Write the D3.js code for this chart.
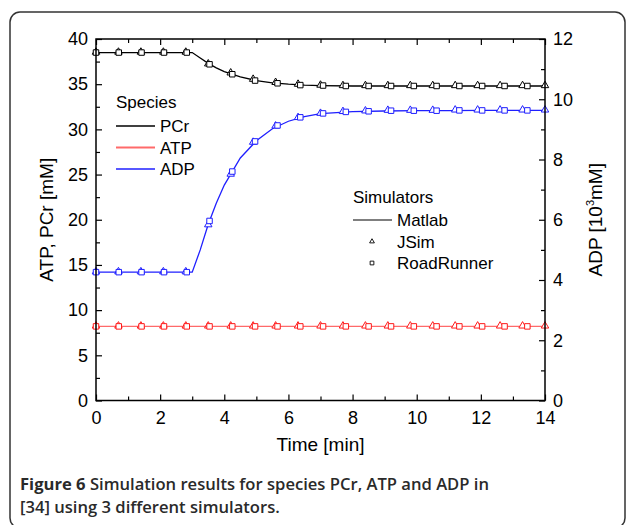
<!DOCTYPE html>
<html lang="en">
<head>
    <meta charset="UTF-8">
    <title>Figure 6</title>
    <style>
        body { margin: 0; background: #fff; }
        svg { display: block; }
    </style>
</head>
<body>
<script src="https://cdn.jsdelivr.net/npm/d3@7"></script>
<script>
    const width = 629;
    const height = 525;
    const margin = ({top: 39, right: 84, bottom: 125, left: 96});

    // time points of each simulator [min]
    const matlabTime = [0, 3, 3.25, 3.5, 3.75, 4, 4.5, 5, 5.5, 6, 6.5, 7, 8, 9, 10, 11, 12, 13, 14];
    const jsimTime = [0, 0.7, 1.4, 2.1, 2.8, 3.5, 4.2, 4.9, 5.6, 6.3, 7, 7.7, 8.4, 9.1, 9.8, 10.5, 11.2, 11.9, 12.6, 13.3, 14];
    const rrTime = [0, 0.71, 1.42, 2.12, 2.83, 3.54, 4.25, 4.96, 5.66, 6.37, 7.08, 7.79, 8.5, 9.2, 9.91, 10.62, 11.33, 12.04, 12.74, 13.45];

    // PCr, ATP [mM] (left axis), ADP [10^3 mM] (right axis)
    const matlabPCr = [38.5, 38.5, 37.9, 37.3, 36.8, 36.4, 35.8, 35.4, 35.15, 35.0, 34.9, 34.85, 34.8, 34.8, 34.8, 34.8, 34.8, 34.8, 34.8];
    const matlabATP = [8.2, 8.2, 8.2, 8.2, 8.2, 8.2, 8.2, 8.2, 8.2, 8.2, 8.2, 8.2, 8.2, 8.2, 8.2, 8.2, 8.2, 8.2, 8.2];
    const matlabADP = [4.26, 4.26, 5.0, 5.85, 6.55, 7.15, 8.05, 8.62, 9.02, 9.27, 9.42, 9.52, 9.59, 9.61, 9.62, 9.62, 9.63, 9.63, 9.63];

    const jsimPCr = [38.5, 38.5, 38.5, 38.5, 38.5, 37.2, 36.2, 35.5, 35.15, 34.95, 34.85, 34.8, 34.8, 34.8, 34.8, 34.8, 34.8, 34.8, 34.8, 34.8, 34.8];
    const jsimATP = [8.2, 8.2, 8.2, 8.2, 8.2, 8.2, 8.2, 8.2, 8.2, 8.2, 8.2, 8.2, 8.2, 8.2, 8.2, 8.2, 8.2, 8.2, 8.2, 8.2, 8.2];
    const jsimADP = [4.26, 4.26, 4.26, 4.26, 4.26, 5.82, 7.5, 8.56, 9.1, 9.38, 9.52, 9.58, 9.6, 9.62, 9.62, 9.62, 9.63, 9.63, 9.63, 9.63, 9.63];

    const rrPCr = [38.5, 38.5, 38.5, 38.5, 38.5, 37.2, 36.1, 35.4, 35.1, 34.9, 34.85, 34.8, 34.8, 34.8, 34.8, 34.8, 34.8, 34.8, 34.8, 34.8];
    const rrATP = [8.2, 8.2, 8.2, 8.2, 8.2, 8.2, 8.2, 8.2, 8.2, 8.2, 8.2, 8.2, 8.2, 8.2, 8.2, 8.2, 8.2, 8.2, 8.2, 8.2];
    const rrADP = [4.26, 4.26, 4.26, 4.26, 4.26, 5.96, 7.6, 8.6, 9.13, 9.4, 9.53, 9.58, 9.6, 9.62, 9.62, 9.62, 9.63, 9.63, 9.63, 9.63];

    const xTicks = [0, 2, 4, 6, 8, 10, 12, 14];
    const yLeftTicks = [0, 5, 10, 15, 20, 25, 30, 35, 40];
    const yRightTicks = [0, 2, 4, 6, 8, 10, 12];
    const speciesNames = ["PCr", "ATP", "ADP"];
    const simulatorNames = ["Matlab", "JSim", "RoadRunner"];

    const lineColor = {PCr: "#000000", ATP: "#ff6a6a", ADP: "#1f1fff"};
    const markColor = {PCr: "#000000", ATP: "#ff1a1a", ADP: "#1f1fff"};
    const font = "Liberation Sans, Arial, Helvetica, sans-serif";

    const svg = d3.select("body")
        .append("svg")
        .attr("width", width)
        .attr("height", height)
        .attr("font-family", font);

    // frame round the figure
    svg.append("rect")
        .attr("x", 10).attr("y", 12)
        .attr("width", 615).attr("height", 516)
        .attr("rx", 10)
        .attr("fill", "none")
        .attr("stroke", "#333")
        .attr("stroke-width", 1.5);

    const x = d3.scaleLinear().domain([0, 14]).range([margin.left, width - margin.right]);
    const yL = d3.scaleLinear().domain([0, 40]).range([height - margin.bottom + 0.5, margin.top]);
    const yR = d3.scaleLinear().domain([0, 12]).range([height - margin.bottom + 0.5, margin.top]);
    const yFor = s => s === "ADP" ? yR : yL;

    const matlab = {PCr: matlabPCr, ATP: matlabATP, ADP: matlabADP};
    const jsim = {PCr: jsimPCr, ATP: jsimATP, ADP: jsimADP};
    const rr = {PCr: rrPCr, ATP: rrATP, ADP: rrADP};

    // Matlab lines
    speciesNames.forEach(s => {
        const line = d3.line()
            .x((d, i) => x(matlabTime[i]))
            .y(d => yFor(s)(d));
        svg.append("path")
            .datum(matlab[s])
            .attr("fill", "none")
            .attr("stroke", lineColor[s])
            .attr("stroke-width", 1.3)
            .attr("d", line);
    });

    const tri = d3.symbol().type(d3.symbolTriangle).size(24);
    const sq = d3.symbol().type(d3.symbolSquare).size(30);

    speciesNames.forEach(s => {
        svg.append("g").selectAll("path")
            .data(jsim[s])
            .enter().append("path")
            .attr("transform", (d, i) => `translate(${x(jsimTime[i])},${yFor(s)(d) - 0.5})`)
            .attr("d", tri)
            .attr("fill", "#fff")
            .attr("stroke", markColor[s])
            .attr("stroke-width", 1);
        svg.append("g").selectAll("path")
            .data(rr[s])
            .enter().append("path")
            .attr("transform", (d, i) => `translate(${x(rrTime[i])},${yFor(s)(d)})`)
            .attr("d", sq)
            .attr("fill", "#fff")
            .attr("stroke", markColor[s])
            .attr("stroke-width", 1);
    });

    // axes
    const styleAxis = g => {
        g.select(".domain").remove();
        g.selectAll("line").attr("stroke", "#000").attr("stroke-width", 1.2);
        g.selectAll("text").attr("font-size", 18).attr("font-family", font).attr("fill", "#000");
    };
    const minor = (a, b, step) => d3.range(a, b + 1e-9, step);

    svg.append("g")
        .attr("transform", `translate(0,${yL(0)})`)
        .call(d3.axisBottom(x).tickValues(xTicks).tickSize(-6).tickPadding(11))
        .call(styleAxis);
    svg.append("g")
        .attr("transform", `translate(0,${yL(0)})`)
        .call(d3.axisBottom(x).tickValues(minor(1, 13, 2)).tickSize(-4).tickFormat(""))
        .call(styleAxis);
    svg.append("g")
        .attr("transform", `translate(0,${margin.top})`)
        .call(d3.axisTop(x).tickValues(xTicks).tickSize(-6).tickFormat(""))
        .call(styleAxis);
    svg.append("g")
        .attr("transform", `translate(0,${margin.top})`)
        .call(d3.axisTop(x).tickValues(minor(1, 13, 2)).tickSize(-4).tickFormat(""))
        .call(styleAxis);

    svg.append("g")
        .attr("transform", `translate(${margin.left},0)`)
        .call(d3.axisLeft(yL).tickValues(yLeftTicks).tickSize(-6).tickPadding(8))
        .call(styleAxis);
    svg.append("g")
        .attr("transform", `translate(${margin.left},0)`)
        .call(d3.axisLeft(yL).tickValues(minor(2.5, 37.5, 5)).tickSize(-4).tickFormat(""))
        .call(styleAxis);
    svg.append("g")
        .attr("transform", `translate(${width - margin.right},0)`)
        .call(d3.axisRight(yR).tickValues(yRightTicks).tickSize(-6).tickPadding(8))
        .call(styleAxis);
    svg.append("g")
        .attr("transform", `translate(${width - margin.right},0)`)
        .call(d3.axisRight(yR).tickValues(minor(1, 11, 2)).tickSize(-4).tickFormat(""))
        .call(styleAxis);

    // plot box
    svg.append("rect")
        .attr("x", x(0)).attr("y", yL(40))
        .attr("width", x(14) - x(0)).attr("height", yL(0) - yL(40))
        .attr("fill", "none")
        .attr("stroke", "#000")
        .attr("stroke-width", 1.5);

    // axis titles
    svg.append("text")
        .attr("x", (x(0) + x(14)) / 2).attr("y", 451)
        .attr("text-anchor", "middle").attr("font-size", 19)
        .text("Time [min]");
    svg.append("text")
        .attr("transform", `translate(53,${(yL(0) + yL(40)) / 2}) rotate(-90)`)
        .attr("text-anchor", "middle").attr("font-size", 19)
        .text("ATP, PCr [mM]");
    const rt = svg.append("text")
        .attr("transform", `translate(602,${(yL(0) + yL(40)) / 2}) rotate(-90)`)
        .attr("text-anchor", "middle").attr("font-size", 19);
    rt.append("tspan").text("ADP [10");
    rt.append("tspan").attr("font-size", 11).attr("dy", -8).text("3");
    rt.append("tspan").attr("dy", 8).text("mM]");

    // species legend
    const leg1 = svg.append("g").attr("transform", "translate(116,108)").attr("font-size", 17);
    leg1.append("text").text("Species");
    speciesNames.forEach((s, i) => {
        const yy = 18 + i * 21.5;
        leg1.append("line").attr("x1", 0).attr("x2", 39).attr("y1", yy).attr("y2", yy)
            .attr("stroke", lineColor[s]).attr("stroke-width", s === "ATP" ? 2 : 1.3);
        leg1.append("text").attr("x", 44).attr("y", yy + 6).text(s);
    });

    // simulator legend
    const leg2 = svg.append("g").attr("transform", "translate(353,203)").attr("font-size", 17);
    leg2.append("text").text("Simulators");
    simulatorNames.forEach((s, i) => {
        const yy = 17 + i * 21.5;
        if (i === 0) {
            leg2.append("line").attr("x1", 0).attr("x2", 39).attr("y1", yy).attr("y2", yy)
                .attr("stroke", "#000").attr("stroke-width", 1.2);
        } else {
            leg2.append("path")
                .attr("transform", `translate(19,${yy})`)
                .attr("d", (i === 1 ? d3.symbol().type(d3.symbolTriangle).size(10) : d3.symbol().type(d3.symbolSquare).size(14))())
                .attr("fill", "#fff").attr("stroke", "#000").attr("stroke-width", 0.9);
        }
        leg2.append("text").attr("x", 44).attr("y", yy + 6).text(s);
    });

    // caption
    const cap = svg.append("g")
        .attr("font-family", "Open Sans, Noto Sans, sans-serif")
        .attr("font-size", 16.6)
        .attr("fill", "#2a2a2a");
    const l1 = cap.append("text").attr("x", 20).attr("y", 490);
    l1.append("tspan").attr("font-weight", 700).text("Figure 6");
    l1.append("tspan").attr("font-weight", 600).text(" Simulation results for species PCr, ATP and ADP in");
    cap.append("text").attr("x", 20).attr("y", 513).attr("font-weight", 600)
        .text("[34] using 3 different simulators.");
</script>
</body>
</html>
